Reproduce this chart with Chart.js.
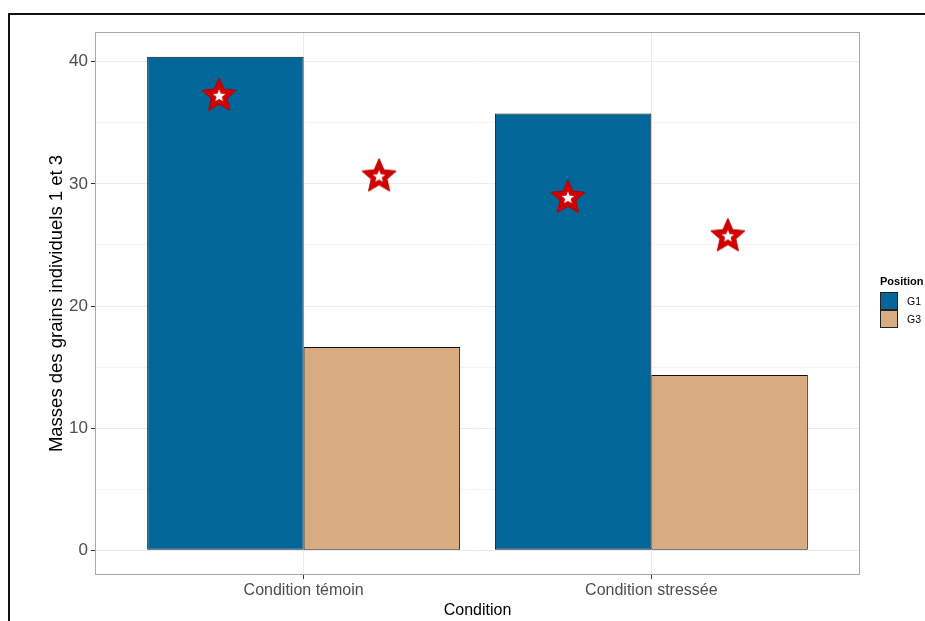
<!DOCTYPE html>
<html lang="fr">
<head>
<meta charset="utf-8">
<script src="https://cdn.jsdelivr.net/npm/chart.js@4/dist/chart.umd.min.js"></script>
<style>
  html, body { margin: 0; padding: 0; background: #fff; overflow: hidden; }
  #wrap { position: relative; width: 925px; height: 621px; }
  #frame { position: absolute; left: 8px; top: 13px; width: 1000px; height: 1000px;
           border: 2px solid #111; box-sizing: border-box; pointer-events: none; }
  #legend { position: absolute; left: 880px; top: 275px; font-family: "Liberation Sans", Arial, sans-serif; }
  #legend .title { font-size: 11px; font-weight: bold; color: #000; margin-bottom: 5px; }
  #legend .row { display: flex; align-items: center; height: 18px; }
  #legend .key { width: 16px; height: 16px; border: 1px solid #222; margin-right: 9px; }
  #legend .lab { font-size: 10.5px; color: #000; }
</style>
</head>
<body>
<div id="wrap">
  <canvas id="chart" width="925" height="621"></canvas>
  <div id="frame"></div>
  <div id="legend"></div>
</div>
<script>
  // ===== Données =====
  const categories = ['Condition témoin', 'Condition stressée'];
  const groups     = ['G1', 'G3'];
  const massG1     = [40.4, 35.75];   // barres G1
  const massG3     = [16.65, 14.35];  // barres G3
  const meanG1     = [37.2, 28.85];   // étoiles G1
  const meanG3     = [30.6, 25.7];    // étoiles G3
  const starXG1    = [0.757, 1.760];  // position (esquive) des étoiles G1
  const starXG3    = [1.217, 2.220];  // position (esquive) des étoiles G3
  const yTicks     = [0, 5, 10, 15, 20, 25, 30, 35, 40];

  const colors = { G1: '#036699', G3: '#d8ab80' };

  // ===== Marqueur étoile (rouge + centre blanc) =====
  function starPath(ctx, cx, cy, r, inner) {
    ctx.beginPath();
    for (let i = 0; i < 10; i++) {
      const rad = i % 2 ? r * inner : r;
      const a = -Math.PI / 2 + i * Math.PI / 5;
      ctx.lineTo(cx + rad * Math.cos(a), cy + rad * Math.sin(a));
    }
    ctx.closePath();
  }
  function makeStar(R) {
    const c = document.createElement('canvas');
    c.width = c.height = Math.ceil(R * 2 + 2);
    const ctx = c.getContext('2d');
    const m = c.width / 2;
    starPath(ctx, m, m, R, 0.46);
    ctx.fillStyle = '#d20000';
    ctx.fill();
    ctx.strokeStyle = '#b40000';
    ctx.lineWidth = 1;
    ctx.stroke();
    starPath(ctx, m, m, R * 0.36, 0.45);
    ctx.fillStyle = '#ffffff';
    ctx.fill();
    return c;
  }
  const star = makeStar(18);

  const xPos = categories.map((_, i) => i + 1);
  const toPts = (xs, ys) => xs.map((x, i) => ({ x, y: ys[i] }));

  // ===== Cadre du panneau =====
  const panelBorder = {
    id: 'panelBorder',
    afterDraw(chart) {
      const { ctx, chartArea: a } = chart;
      ctx.save();
      ctx.strokeStyle = '#a8a8a8';
      ctx.lineWidth = 1;
      ctx.strokeRect(a.left + 0.5, a.top + 0.5, a.right - a.left - 1, a.bottom - a.top - 1);
      ctx.restore();
    }
  };

  const FONT = '"Liberation Sans", Arial, sans-serif';

  new Chart(document.getElementById('chart'), {
    type: 'bar',
    data: {
      datasets: [
        { label: 'G1', data: toPts(xPos, massG1), backgroundColor: colors.G1,
          borderColor: '#111', borderWidth: 1, borderSkipped: false, order: 2 },
        { label: 'G3', data: toPts(xPos, massG3), backgroundColor: colors.G3,
          borderColor: '#111', borderWidth: 1, borderSkipped: false, order: 2 },
        { type: 'scatter', label: 'moy G1', data: toPts(starXG1, meanG1),
          pointStyle: star, pointRadius: 19, order: 1 },
        { type: 'scatter', label: 'moy G3', data: toPts(starXG3, meanG3),
          pointStyle: star, pointRadius: 19, order: 1 }
      ]
    },
    options: {
      responsive: false,
      animation: false,
      layout: { padding: { left: 40, top: 32, right: 65, bottom: 0 } },
      datasets: { bar: { categoryPercentage: 0.9, barPercentage: 1 } },
      plugins: { legend: { display: false }, tooltip: { enabled: false } },
      scales: {
        x: {
          type: 'linear', min: 0.4, max: 2.6, offset: false,
          afterBuildTicks: s => { s.ticks = xPos.map(v => ({ value: v })); },
          afterFit: s => { s.height = 46; },
          border: { display: false },
          grid: { offset: false, color: '#ebebeb', tickColor: '#333', tickLength: 4 },
          ticks: { callback: v => categories[v - 1], color: '#4d4d4d',
                   font: { family: FONT, size: 16 }, padding: 2, maxRotation: 0 },
          title: { display: true, text: 'Condition', color: '#000',
                   font: { family: FONT, size: 16 }, padding: { top: 0, bottom: 1 } }
        },
        y: {
          min: -2.02, max: 42.43,
          afterBuildTicks: s => { s.ticks = yTicks.map(v => ({ value: v })); },
          afterFit: s => { s.width = 55; },
          border: { display: false },
          grid: {
            color: c => c.tick && c.tick.value % 10 === 0 ? '#ebebeb' : '#f4f4f4',
            tickColor: c => c.tick && c.tick.value % 10 === 0 ? '#333' : 'rgba(0,0,0,0)',
            tickLength: 4
          },
          ticks: { callback: v => v % 10 === 0 ? String(v) : '', color: '#4d4d4d',
                   font: { family: FONT, size: 17 }, padding: 3 },
          title: { display: true, text: 'Masses des grains individuels 1 et 3', color: '#000',
                   font: { family: FONT, size: 18.5 }, padding: { top: 6, bottom: 0 } }
        }
      }
    },
    plugins: [panelBorder]
  });

  // ===== Légende =====
  const legend = document.getElementById('legend');
  legend.innerHTML = '<div class="title">Position</div>' +
    groups.map(g => `<div class="row"><div class="key" style="background:${colors[g]}"></div><span class="lab">${g}</span></div>`).join('');
</script>
</body>
</html>
